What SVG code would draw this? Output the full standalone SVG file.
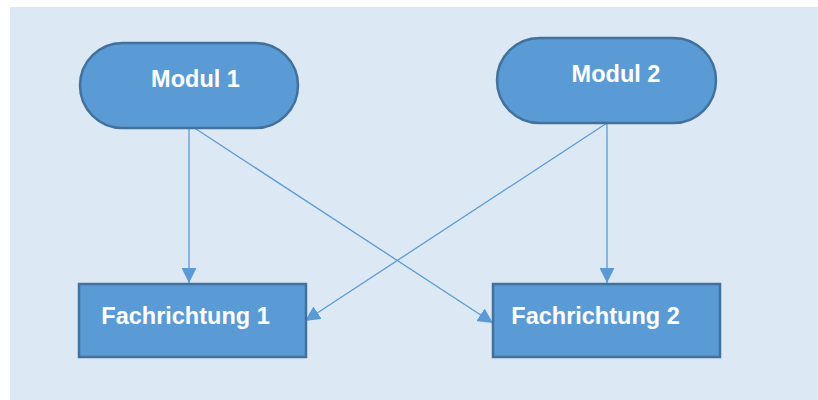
<svg xmlns="http://www.w3.org/2000/svg" width="818" height="400" viewBox="0 0 818 400">
<defs>
<style>
.node{fill:#5b9bd5;stroke:#41719c;stroke-width:2.5}
.lbl{font-family:"Liberation Sans",Arial,sans-serif;font-weight:bold;font-size:23.5px;fill:#ffffff;text-anchor:middle}
.con{stroke:#5b9bd5;stroke-width:1.3;fill:none}
</style>
<marker id="arr" markerUnits="userSpaceOnUse" markerWidth="15" markerHeight="15" refX="15" refY="7.5" orient="auto">
<path d="M0,0 L15,7.5 L0,15 z" fill="#5b9bd5"/>
</marker>
</defs>
<rect x="10" y="7" width="808" height="393" fill="#dde8f5"/>
<g id="connectors">
<line class="con" x1="189" y1="128" x2="189" y2="283" marker-end="url(#arr)"/>
<line class="con" x1="193" y1="127" x2="493" y2="323" marker-end="url(#arr)"/>
<line class="con" x1="607" y1="123" x2="607" y2="283" marker-end="url(#arr)"/>
<line class="con" x1="607" y1="123" x2="305" y2="321" marker-end="url(#arr)"/>
</g>
<g id="modul1">
<rect class="node" x="80" y="43" width="218" height="85" rx="42.5" ry="42.5"/>
<text class="lbl" x="195.5" y="87">Modul 1</text>
</g>
<g id="modul2">
<rect class="node" x="497" y="38" width="219" height="85" rx="42.5" ry="42.5"/>
<text class="lbl" x="616" y="82">Modul 2</text>
</g>
<g id="fachrichtung1">
<rect class="node" x="79" y="284" width="227" height="73"/>
<text class="lbl" x="185.5" y="324">Fachrichtung 1</text>
</g>
<g id="fachrichtung2">
<rect class="node" x="493" y="284" width="227" height="73"/>
<text class="lbl" x="595.5" y="324">Fachrichtung 2</text>
</g>
</svg>
